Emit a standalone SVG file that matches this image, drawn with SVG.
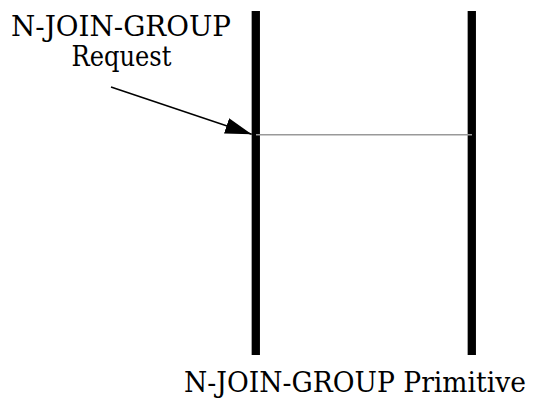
<svg xmlns="http://www.w3.org/2000/svg" width="535" height="401" viewBox="0 0 535 401">
<style>
text{font-family:'DejaVu Serif','Liberation Serif',serif;font-size:27px;fill:#000;text-anchor:middle}
.bar{stroke:#000;stroke-width:8.3;fill:none}
.msg{stroke:#999;stroke-width:1.5;fill:none}
.ptr{stroke:#000;stroke-width:1.5;fill:none}
</style>
<defs>
<marker id="ah" markerUnits="userSpaceOnUse" markerWidth="30" markerHeight="20" refX="26.5" refY="8" orient="auto" viewBox="0 0 30 20">
<path d="M0,0 L26.5,8 L0,16 Z" fill="#000"/>
</marker>
</defs>
<rect width="535" height="401" fill="#fff"/>
<g id="lifeline-left"><line class="bar" x1="255.8" y1="11" x2="255.8" y2="355"/></g>
<g id="lifeline-right"><line class="bar" x1="471.8" y1="11" x2="471.8" y2="355"/></g>
<g id="connectors">
<line class="msg" x1="256" y1="134.7" x2="472" y2="134.7"/>
<line class="ptr" x1="111" y1="87" x2="251.7" y2="134.3" marker-end="url(#ah)"/>
</g>
<g id="label-request">
<text x="121" y="36" textLength="220" lengthAdjust="spacingAndGlyphs">N-JOIN-GROUP</text>
<text x="121.5" y="66" textLength="100" lengthAdjust="spacingAndGlyphs">Request</text>
</g>
<g id="label-primitive">
<text x="355" y="392" textLength="342" lengthAdjust="spacingAndGlyphs">N-JOIN-GROUP Primitive</text>
</g>
</svg>
